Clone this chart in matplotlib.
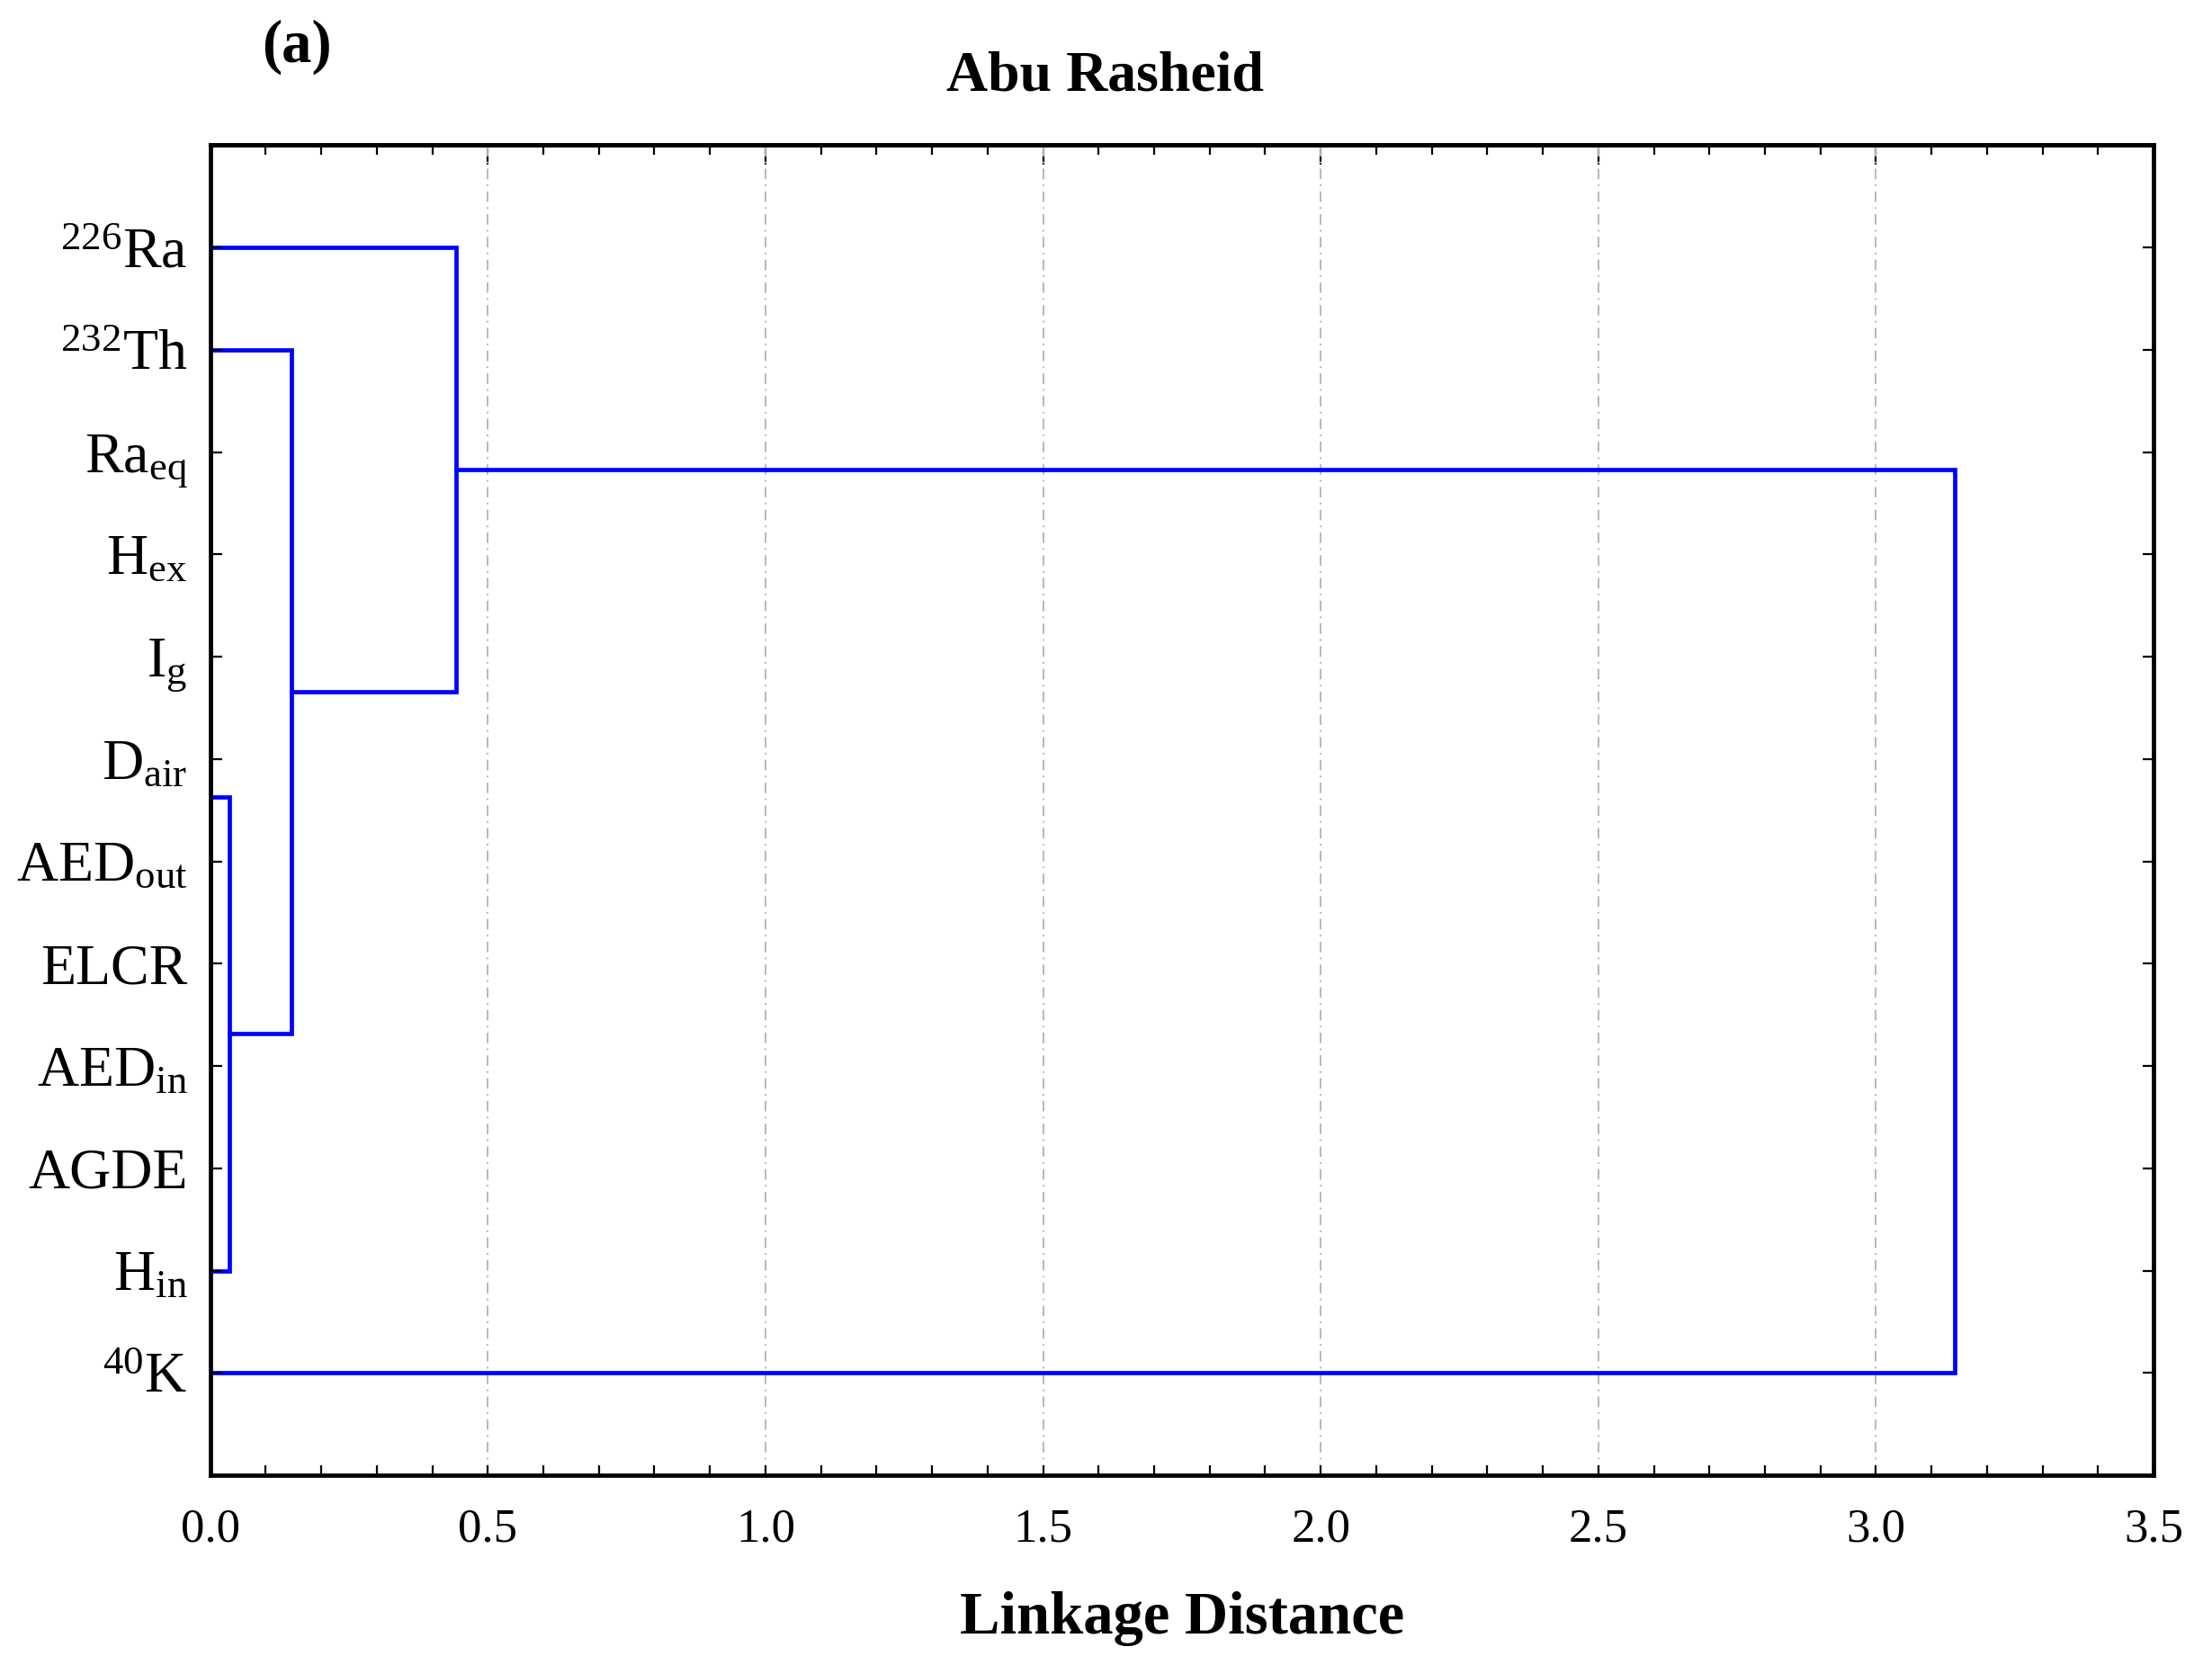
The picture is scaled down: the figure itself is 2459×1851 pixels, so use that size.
import numpy as np
import matplotlib.pyplot as plt
from matplotlib.ticker import MultipleLocator

plt.rcParams['font.family'] = ['Liberation Serif', 'DejaVu Serif']
plt.rcParams['mathtext.fontset'] = 'custom'
plt.rcParams['mathtext.rm'] = 'Liberation Serif'
plt.rcParams['mathtext.it'] = 'Liberation Serif:italic'
plt.rcParams['mathtext.bf'] = 'Liberation Serif:bold'

# leaves, top to bottom
leaf_labels = [r'$^{226}$Ra', r'$^{232}$Th', r'Ra$_{\mathrm{eq}}$', r'H$_{\mathrm{ex}}$',
               r'I$_{\mathrm{g}}$', r'D$_{\mathrm{air}}$', r'AED$_{\mathrm{out}}$', 'ELCR',
               r'AED$_{\mathrm{in}}$', 'AGDE', r'H$_{\mathrm{in}}$', r'$^{40}$K']

# merge steps: child a, child b (leaf index or 12+ for earlier clusters), linkage distance
merge_a = [4, 3, 2, 7, 6, 16, 14, 18, 1, 0, 21]
merge_b = [5, 12, 13, 8, 15, 9, 17, 10, 19, 20, 11]
merge_dist = [0.0, 0.0, 0.0, 0.0, 0.0, 0.0, 0.0, 0.035, 0.147, 0.443, 3.142]

x_ticks = [0.0, 0.5, 1.0, 1.5, 2.0, 2.5, 3.0, 3.5]

n = len(leaf_labels)
fig = plt.figure(figsize=(2459 / 200, 1851 / 200), dpi=200)
ax = fig.add_axes([0.095, 0.114, 0.8786, 0.7988])

# positions/heights of nodes
ypos = {i: i + 1.0 for i in range(n)}
height = {i: 0.0 for i in range(n)}
for k, (a, b, d) in enumerate(zip(merge_a, merge_b, merge_dist)):
    ya, yb = ypos[a], ypos[b]
    ax.plot([height[a], d, d, height[b]], [ya, ya, yb, yb],
            color='#0000ff', lw=1.7, zorder=1.5, solid_joinstyle='miter')
    ypos[n + k] = (ya + yb) / 2
    height[n + k] = d

ax.set_xlim(0, 3.5)
ax.set_ylim(n + 1, 0)
ax.set_yticks(np.arange(1, n + 1))
ax.set_yticklabels(leaf_labels, fontsize=23)
ax.set_xticks(x_ticks)
ax.set_xticklabels([f'{v:.1f}' for v in x_ticks], fontsize=19)
ax.xaxis.set_minor_locator(MultipleLocator(0.1))

ax.tick_params(axis='x', which='both', direction='in', length=4, width=0.8, pad=13, top=False)
ax.tick_params(axis='y', which='both', direction='in', length=4.5, width=0.8, pad=9, right=True)

top = ax.secondary_xaxis('top')
top.set_xticks(x_ticks)
top.xaxis.set_minor_locator(MultipleLocator(0.1))
top.tick_params(axis='x', which='major', direction='in', length=8, width=0.8, labeltop=False)
top.tick_params(axis='x', which='minor', direction='in', length=4, width=0.8)
top.spines['top'].set_linewidth(1.7)

for v in x_ticks[1:-1]:
    ax.axvline(v, color='#b8b8b8', lw=0.7, ls=(0, (6, 3, 1, 3)), zorder=1)

for s in ax.spines.values():
    s.set_linewidth(1.7)
    s.set_zorder(3)

ax.set_xlabel('Linkage Distance', fontsize=24, fontweight='bold', labelpad=16)
fig.text(0.4995, 0.954, 'Abu Rasheid', fontsize=23, fontweight='bold', ha='center', va='center')
fig.text(0.134, 0.972, '(a)', fontsize=24, fontweight='bold', ha='center', va='center')

fig.savefig('out.png', dpi=200, facecolor='white')
